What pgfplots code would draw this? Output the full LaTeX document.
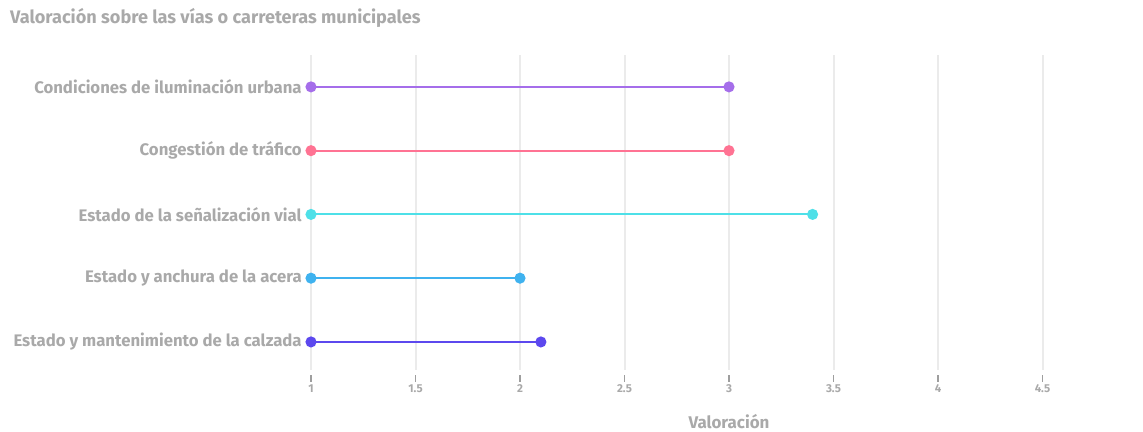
\documentclass[border=0pt]{standalone}
\usepackage{pgfplots}
\pgfplotsset{compat=1.18}
\usepackage{fontspec}
\setmainfont{Fira Sans}

\definecolor{txtgray}{HTML}{A9A9A9}
\definecolor{tickgray}{HTML}{9E9E9E}
\definecolor{gridgray}{HTML}{EBEBEB}
\definecolor{cIlum}{HTML}{A56EEA}
\definecolor{cCong}{HTML}{FF7393}
\definecolor{cSenal}{HTML}{4EE0E8}
\definecolor{cAcera}{HTML}{3FB2EF}
\definecolor{cCalz}{HTML}{5C48EE}

\begin{document}
\begin{tikzpicture}
\path[use as bounding box] (0bp,0bp) rectangle (1143bp,432bp);
\node[anchor=west, text=txtgray, font=\fontsize{18.2}{21}\selectfont\bfseries, inner sep=0pt]
  at (10bp,414bp) {Valoración sobre las vías o carreteras municipales};
\begin{axis}[
  at={(311bp,62bp)}, anchor=south west,
  scale only axis, width=836bp, height=315bp,
  xmin=1, xmax=5, ymin=-0.44, ymax=4.5,
  axis x line=bottom, axis y line=left,
  axis line style={draw=none},
  xtick={1,1.5,2,2.5,3,3.5,4,4.5},
  ytick={0,1,2,3,4},
  yticklabels={Estado y mantenimiento de la calzada,
               Estado y anchura de la acera,
               Estado de la señalización vial,
               Congestión de tráfico,
               Condiciones de iluminación urbana},
  xmajorgrids, ymajorgrids=false,
  major grid style={gridgray, line width=2bp},
  xticklabel style={text=txtgray, font=\fontsize{11.5}{13}\selectfont\bfseries},
  yticklabel style={text=txtgray, font=\fontsize{16.8}{19}\selectfont\bfseries, inner sep=0pt, xshift=-7bp},
  xticklabel shift=9bp,
  tick style={draw=none},
  /pgf/number format/assume math mode=true,
  clip=false,
]
\addplot[cCalz, line width=2bp, mark=*, mark size=4.5bp, mark options={fill=cCalz, draw=cCalz}]
  coordinates {(1,0) (2.1,0)};
\addplot[cAcera, line width=2bp, mark=*, mark size=4.5bp, mark options={fill=cAcera, draw=cAcera}]
  coordinates {(1,1) (2.0,1)};
\addplot[cSenal, line width=2bp, mark=*, mark size=4.5bp, mark options={fill=cSenal, draw=cSenal}]
  coordinates {(1,2) (3.4,2)};
\addplot[cCong, line width=2bp, mark=*, mark size=4.5bp, mark options={fill=cCong, draw=cCong}]
  coordinates {(1,3) (3.0,3)};
\addplot[cIlum, line width=2bp, mark=*, mark size=4.5bp, mark options={fill=cIlum, draw=cIlum}]
  coordinates {(1,4) (3.0,4)};
% short tick marks, set apart below the grid lines
\pgfplotsinvokeforeach{1,1.5,2,2.5,3,3.5,4,4.5}{
  \draw[draw=tickgray, line width=1.3bp] ([yshift=-5bp]axis cs:#1,-0.44) -- ([yshift=-12bp]axis cs:#1,-0.44);
}
\node[text=txtgray, font=\fontsize{17}{20}\selectfont\bfseries] at (axis description cs:0.5,0) [yshift=-52bp] {Valoración};
\end{axis}
\end{tikzpicture}
\end{document}
